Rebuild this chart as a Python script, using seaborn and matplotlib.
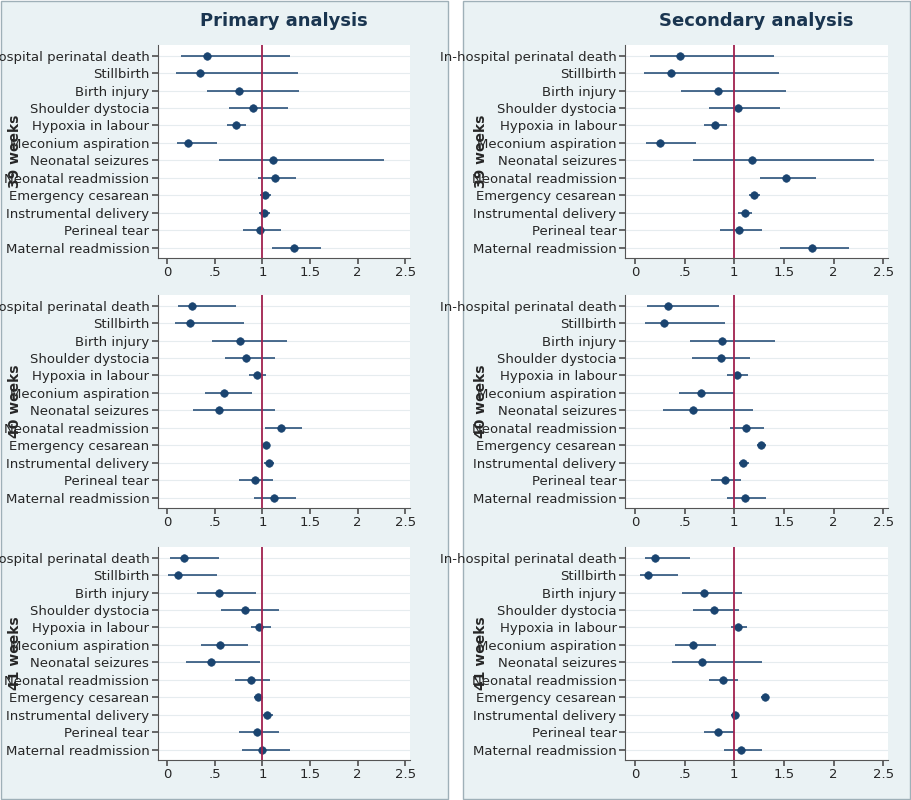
import numpy as np
import pandas as pd
import matplotlib
matplotlib.use("Agg")
import matplotlib.pyplot as plt
from matplotlib.patches import Rectangle
import seaborn as sns

outcomes = ["In-hospital perinatal death", "Stillbirth", "Birth injury", "Shoulder dystocia",
            "Hypoxia in labour", "Meconium aspiration", "Neonatal seizures", "Neonatal readmission",
            "Emergency cesarean", "Instrumental delivery", "Perineal tear", "Maternal readmission"]

# primary analysis
p39_est = [0.42, 0.34, 0.76, 0.90, 0.72, 0.22, 1.11, 1.13, 1.03, 1.02, 0.98, 1.33]
p39_lo = [0.15, 0.09, 0.42, 0.65, 0.63, 0.10, 0.55, 0.95, 0.98, 0.96, 0.80, 1.10]
p39_hi = [1.29, 1.37, 1.39, 1.27, 0.83, 0.52, 2.28, 1.35, 1.09, 1.08, 1.20, 1.62]
p40_est = [0.26, 0.24, 0.77, 0.83, 0.94, 0.60, 0.54, 1.20, 1.04, 1.07, 0.92, 1.12]
p40_lo = [0.11, 0.08, 0.47, 0.61, 0.86, 0.40, 0.27, 1.03, 1.00, 1.02, 0.76, 0.91]
p40_hi = [0.72, 0.81, 1.26, 1.13, 1.04, 0.89, 1.13, 1.42, 1.08, 1.12, 1.11, 1.35]
p41_est = [0.18, 0.11, 0.55, 0.82, 0.97, 0.56, 0.46, 0.88, 0.95, 1.05, 0.94, 1.00]
p41_lo = [0.03, 0.01, 0.31, 0.57, 0.88, 0.36, 0.20, 0.71, 0.91, 1.01, 0.76, 0.79]
p41_hi = [0.54, 0.52, 0.93, 1.18, 1.09, 0.85, 0.98, 1.08, 1.00, 1.11, 1.17, 1.29]

# secondary analysis
s39_est = [0.45, 0.36, 0.84, 1.04, 0.81, 0.25, 1.18, 1.52, 1.20, 1.11, 1.05, 1.78]
s39_lo = [0.15, 0.09, 0.46, 0.75, 0.70, 0.11, 0.58, 1.26, 1.15, 1.04, 0.86, 1.46]
s39_hi = [1.40, 1.45, 1.52, 1.46, 0.93, 0.62, 2.41, 1.82, 1.26, 1.18, 1.28, 2.16]
s40_est = [0.33, 0.29, 0.88, 0.87, 1.03, 0.67, 0.58, 1.12, 1.27, 1.09, 0.91, 1.11]
s40_lo = [0.12, 0.10, 0.55, 0.57, 0.93, 0.44, 0.28, 0.96, 1.23, 1.05, 0.77, 0.93]
s40_hi = [0.85, 0.91, 1.41, 1.16, 1.14, 1.00, 1.19, 1.30, 1.32, 1.15, 1.07, 1.32]
s41_est = [0.20, 0.13, 0.70, 0.80, 1.04, 0.58, 0.68, 0.89, 1.31, 1.01, 0.84, 1.07]
s41_lo = [0.10, 0.05, 0.47, 0.59, 0.97, 0.40, 0.37, 0.75, 1.27, 0.97, 0.70, 0.90]
s41_hi = [0.55, 0.43, 1.08, 1.05, 1.13, 0.82, 1.28, 1.04, 1.35, 1.05, 1.00, 1.28]

weeks = ["39 weeks", "40 weeks", "41 weeks"]
titles = ["Primary analysis", "Secondary analysis"]
panels = [[(p39_est, p39_lo, p39_hi), (s39_est, s39_lo, s39_hi)],
          [(p40_est, p40_lo, p40_hi), (s40_est, s40_lo, s40_hi)],
          [(p41_est, p41_lo, p41_hi), (s41_est, s41_lo, s41_hi)]]

sns.set_theme(style="white")
plt.rcParams['font.family'] = ['DejaVu Sans']

fig = plt.figure(figsize=(9.11, 8.0), dpi=100, facecolor="white")
bg = "#eaf2f4"
fig.patches.append(Rectangle((0.001, 0.001), 0.491, 0.998, transform=fig.transFigure,
                             facecolor=bg, edgecolor="#9fb0b8", lw=1, zorder=-10))
fig.patches.append(Rectangle((0.508, 0.001), 0.491, 0.998, transform=fig.transFigure,
                             facecolor=bg, edgecolor="#9fb0b8", lw=1, zorder=-10))

col_left = [0.173, 0.686]
col_w = [0.277, 0.289]
row_bottom = [0.6775, 0.365, 0.05]
row_h = 0.266
navy = "#1a4470"

for r in range(3):
    for c in range(2):
        est, lo, hi = panels[r][c]
        ax = fig.add_axes([col_left[c], row_bottom[r], col_w[c], row_h])
        ax.set_zorder(1)
        ax.set_facecolor("white")
        df = pd.DataFrame({"outcome": outcomes, "y": np.arange(len(outcomes)),
                           "est": est, "lo": lo, "hi": hi})
        for yv in df["y"]:
            ax.axhline(yv, color="#e6ecef", lw=0.8, zorder=0)
        ax.hlines(df["y"], df["lo"], df["hi"], color=navy, lw=1.1, zorder=2)
        sns.scatterplot(data=df, x="est", y="y", ax=ax, color=navy, s=30,
                        edgecolor=navy, zorder=3, legend=False)
        ax.axvline(1, color="#a0214e", lw=1.3, zorder=4)
        ax.set_xlim(-0.1, 2.55)
        ax.set_ylim(len(outcomes) - 0.4, -0.6)
        ax.set_xticks([0, 0.5, 1, 1.5, 2, 2.5])
        ax.set_xticklabels(["0", ".5", "1", "1.5", "2", "2.5"], fontsize=9.5)
        ax.set_yticks(df["y"])
        ax.set_yticklabels(outcomes, fontsize=9.5)
        ax.tick_params(axis="both", length=4, color="#555555", left=True, bottom=True, pad=2)
        ax.set_xlabel("")
        ax.set_ylabel("")
        for side in ["top", "right"]:
            ax.spines[side].set_visible(False)
        for side in ["left", "bottom"]:
            ax.spines[side].set_color("#555555")
            ax.spines[side].set_linewidth(0.8)
        if r == 0:
            ax.set_title(titles[c], fontsize=13, fontweight="bold", color="#1a3550", pad=14)
        fig.text(0.017 + 0.511 * c, row_bottom[r] + row_h / 2, weeks[r], rotation=90,
                 ha="center", va="center", fontsize=10, fontweight="bold")

fig.savefig("out.png", dpi=100, facecolor="white")
